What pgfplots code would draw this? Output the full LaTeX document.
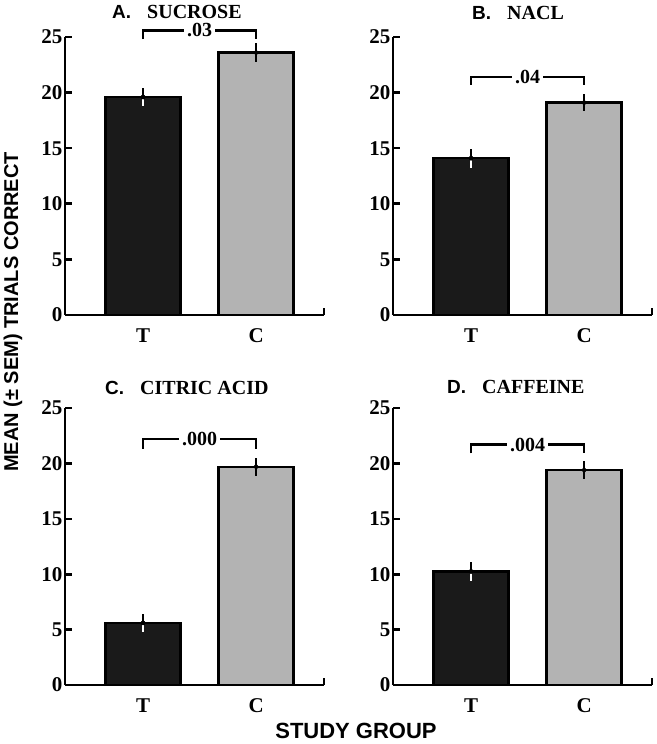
\documentclass[border=0pt]{standalone}
\usepackage{pgfplots}
\pgfplotsset{compat=1.18}
\usepackage{fontspec}
\setmainfont{Liberation Serif}
\setsansfont{Liberation Sans}
\definecolor{barblack}{HTML}{1A1A1A}
\definecolor{bargray}{HTML}{B3B3B3}

\pgfplotsset{
  panel/.style={
    scale only axis, width=259pt, height=278pt,
    xmin=-0.69, xmax=1.60, ymin=0, ymax=25,
    axis x line=bottom, axis y line=left,
    axis line style={-, line width=2.8pt},
    ytick={0,5,...,25}, xtick={0,1}, xticklabels={T,C},
    x tick style={draw=none},
    y tick style={line width=2.6pt, black},
    major tick length=7pt, tick align=inside,
    ticklabel style={font=\fontsize{21}{21}\selectfont\bfseries},
    /pgf/number format/assume math mode=true,
    yticklabel style={xshift=1pt},
    xticklabel style={yshift=-10pt},
    clip=false,
    anchor=south west,
  },
  tbar/.style={ybar, bar width=75pt, bar shift=0pt, fill=barblack, draw=black, line width=2.4pt},
  cbar/.style={ybar, bar width=75pt, bar shift=0pt, fill=bargray, draw=black, line width=2.4pt},
  errup/.style={only marks, mark=none, forget plot, error bars/.cd, y dir=plus, y explicit, error mark=none, error bar style={line width=2.3pt, black}},
  errdn/.style={only marks, mark=none, forget plot, error bars/.cd, y dir=minus, y explicit, error mark=none, error bar style={line width=2.3pt, white}},
  errboth/.style={only marks, mark=none, forget plot, error bars/.cd, y dir=both, y explicit, error mark=none, error bar style={line width=2.3pt, black}},
}
\newcommand{\rightendtick}{\draw[line width=2.8pt] (rel axis cs:1,0) -- ([yshift=7pt]rel axis cs:1,0);}
\newcommand{\bracket}[3]{%
  \draw[line width=2.4pt] (axis cs:0,#2) |- (axis cs:1,#1) -- (axis cs:1,#2);
  \node[fill=white, inner xsep=3pt, inner ysep=0pt, font=\fontsize{20}{20}\selectfont\bfseries] at (axis cs:0.5,#1) {#3};}

\begin{document}
\begin{tikzpicture}[x=1pt,y=1pt]
\useasboundingbox (0pt,0pt) rectangle (656pt,744pt);

% A
\begin{axis}[panel, at={(65pt,429pt)}]
\addplot[tbar] coordinates {(0,19.6)};
\addplot[cbar] coordinates {(1,23.6)};
\addplot[errup] coordinates {(0,19.6) +- (0,0.85)};
\addplot[errdn] coordinates {(0,19.6) +- (0,0.85)};
\addplot[errboth] coordinates {(1,23.6) +- (0,0.85)};
\bracket{25.6}{24.8}{.03}
\rightendtick
\end{axis}

% B
\begin{axis}[panel, at={(393pt,429pt)}]
\addplot[tbar] coordinates {(0,14.1)};
\addplot[cbar] coordinates {(1,19.1)};
\addplot[errup] coordinates {(0,14.1) +- (0,0.85)};
\addplot[errdn] coordinates {(0,14.1) +- (0,0.85)};
\addplot[errboth] coordinates {(1,19.1) +- (0,0.75)};
\bracket{21.4}{20.7}{.04}
\rightendtick
\end{axis}

% C
\begin{axis}[panel, at={(65pt,59pt)}, height=277pt]
\addplot[tbar] coordinates {(0,5.6)};
\addplot[cbar] coordinates {(1,19.7)};
\addplot[errup] coordinates {(0,5.6) +- (0,0.8)};
\addplot[errdn] coordinates {(0,5.6) +- (0,0.8)};
\addplot[errboth] coordinates {(1,19.7) +- (0,0.8)};
\bracket{22.2}{21.3}{.000}
\rightendtick
\end{axis}

% D
\begin{axis}[panel, at={(393pt,59pt)}, height=277pt]
\addplot[tbar] coordinates {(0,10.25)};
\addplot[cbar] coordinates {(1,19.4)};
\addplot[errup] coordinates {(0,10.25) +- (0,0.85)};
\addplot[errdn] coordinates {(0,10.25) +- (0,0.85)};
\addplot[errboth] coordinates {(1,19.4) +- (0,0.8)};
\bracket{21.7}{20.9}{.004}
\rightendtick
\end{axis}

% titles
\node[anchor=west, inner sep=0pt, font=\fontsize{20}{20}\selectfont\bfseries] at (112pt,732pt) {{\sffamily\fontsize{19}{19}\selectfont A.}\hspace{0.8em}SUCROSE};
\node[anchor=west, inner sep=0pt, font=\fontsize{20}{20}\selectfont\bfseries] at (472pt,731pt) {{\sffamily\fontsize{19}{19}\selectfont B.}\hspace{0.8em}NACL};
\node[anchor=west, inner sep=0pt, font=\fontsize{20}{20}\selectfont\bfseries] at (105pt,356pt) {{\sffamily\fontsize{19}{19}\selectfont C.}\hspace{0.8em}CITRIC ACID};
\node[anchor=west, inner sep=0pt, font=\fontsize{20}{20}\selectfont\bfseries] at (447pt,357pt) {{\sffamily\fontsize{19}{19}\selectfont D.}\hspace{0.8em}CAFFEINE};

% axis labels
\node[rotate=90, font=\sffamily\bfseries\fontsize{20}{20}\selectfont] at (13pt,432pt) {MEAN (± SEM) TRIALS CORRECT};
\node[font=\sffamily\bfseries\fontsize{22}{22}\selectfont] at (356pt,13pt) {STUDY GROUP};
\end{tikzpicture}
\end{document}
